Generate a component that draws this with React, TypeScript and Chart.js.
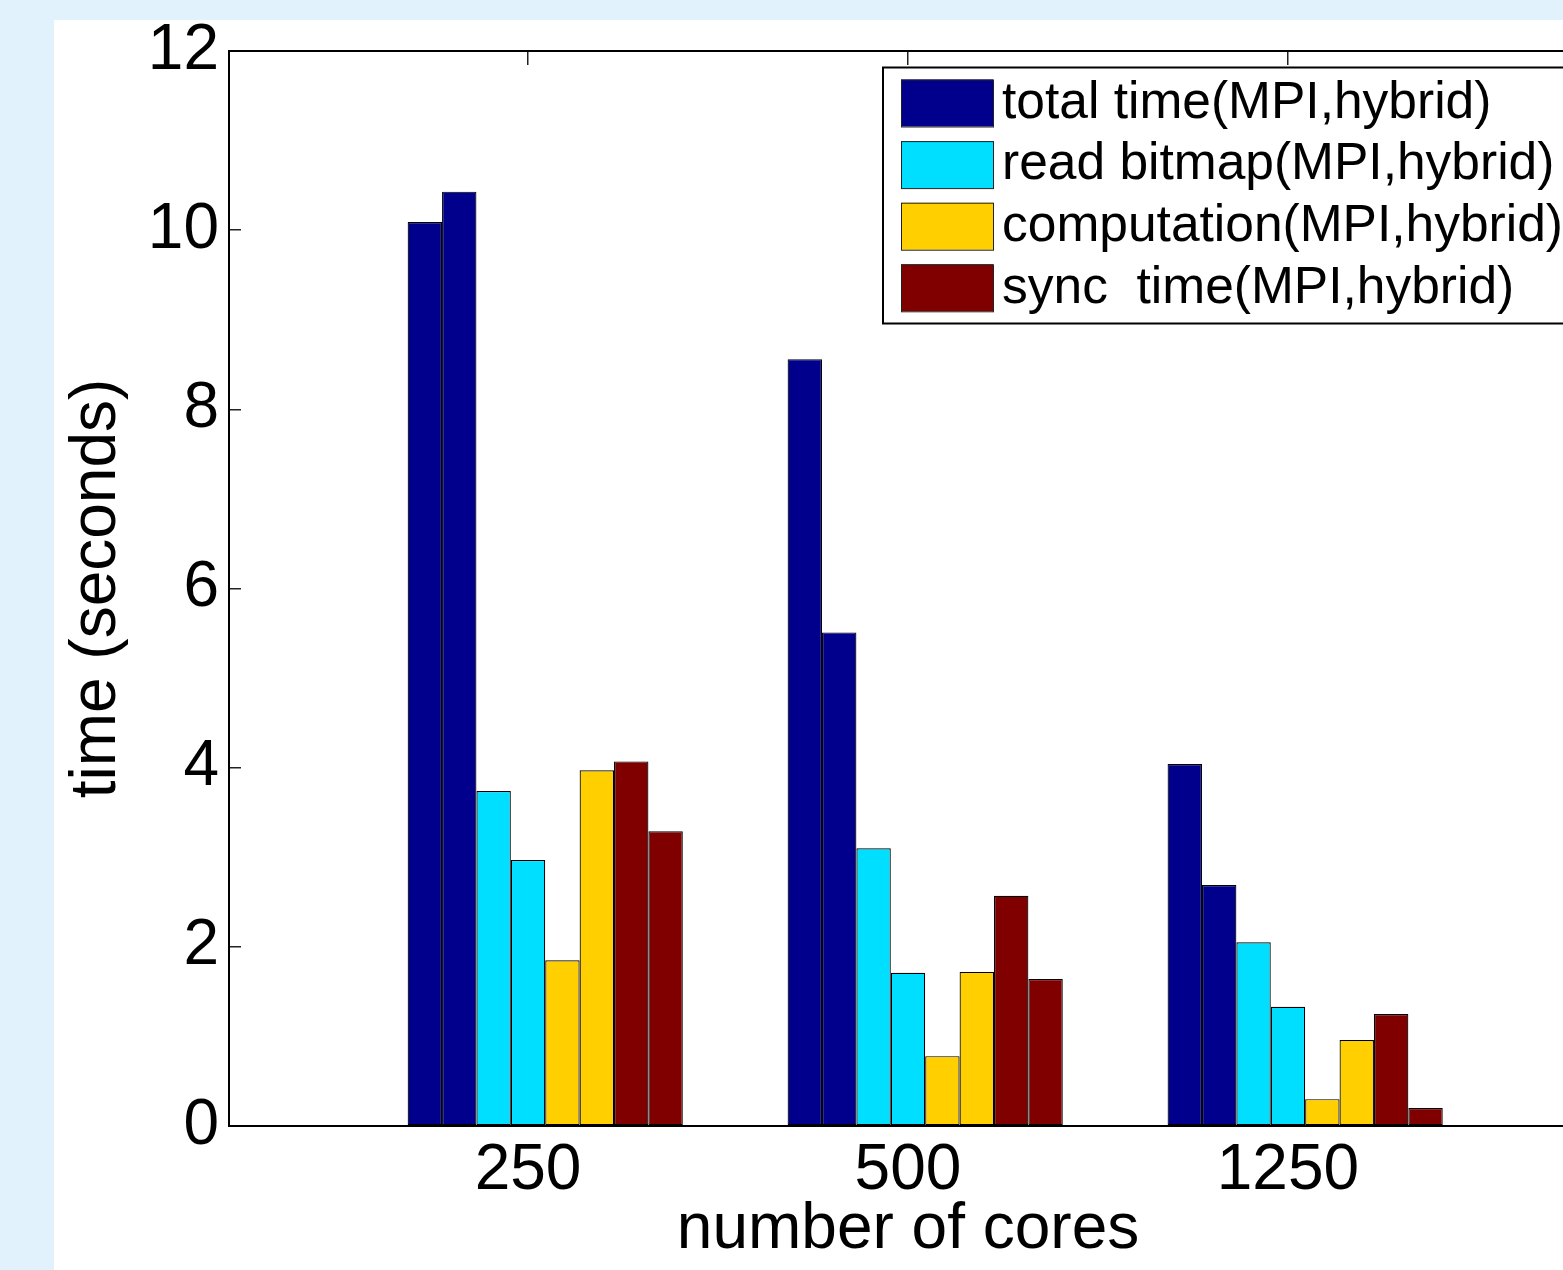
import React, { useEffect, useRef } from 'react';
import { Chart, registerables } from 'chart.js';

Chart.register(...registerables);

// ---- data ----
const CORES = ['250', '500', '1250'];
const TOTAL_MPI = [10.09, 8.56, 4.04];
const TOTAL_HYBRID = [10.43, 5.51, 2.69];
const READ_MPI = [3.74, 3.1, 2.05];
const READ_HYBRID = [2.97, 1.71, 1.33];
const COMP_MPI = [1.85, 0.78, 0.3];
const COMP_HYBRID = [3.97, 1.72, 0.96];
const SYNC_MPI = [4.07, 2.57, 1.25];
const SYNC_HYBRID = [3.29, 1.64, 0.2];
const LEGEND_LABELS = [
  'total time(MPI,hybrid)',
  'read bitmap(MPI,hybrid)',
  'computation(MPI,hybrid)',
  'sync  time(MPI,hybrid)',
];
const COLORS = ['#00008C', '#00DFFF', '#FFCF00', '#800000'];
const Y_MIN = 0;
const Y_MAX = 12;
const Y_STEP = 2;
const X_TITLE = 'number of cores';
const Y_TITLE = 'time (seconds)';

const FONT = "'Liberation Sans', Arial, Helvetica, sans-serif";
const POSITIONS = CORES.map((_, i) => i + 1);
const X_MIN = 0.213;
const X_MAX = 3.787;

const legendPlugin = {
  id: 'matlabLegend',
  afterDraw(chart: any) {
    const ctx = chart.ctx as CanvasRenderingContext2D;
    const bx = 829;
    const by = 47.5;
    const bw = 760;
    const bh = 256;
    ctx.save();
    ctx.fillStyle = '#ffffff';
    ctx.fillRect(bx, by, bw, bh);
    ctx.lineWidth = 2;
    ctx.strokeStyle = '#000000';
    ctx.strokeRect(bx, by, bw, bh);
    ctx.font = `51.5px ${FONT}`;
    ctx.textBaseline = 'middle';
    ctx.textAlign = 'left';
    LEGEND_LABELS.forEach((label, i) => {
      const sy = by + 12 + i * 61.6;
      ctx.fillStyle = COLORS[i];
      ctx.fillRect(847, sy, 92, 47);
      ctx.lineWidth = 1;
      ctx.strokeStyle = '#222222';
      ctx.strokeRect(847.5, sy + 0.5, 92, 47);
      ctx.fillStyle = '#000000';
      ctx.fillText(label, 948, sy + 24);
    });
    ctx.restore();
  },
};

export default function App() {
  const ref = useRef<HTMLCanvasElement | null>(null);

  useEffect(() => {
    if (!ref.current) return;
    const pairs = [
      [TOTAL_MPI, TOTAL_HYBRID],
      [READ_MPI, READ_HYBRID],
      [COMP_MPI, COMP_HYBRID],
      [SYNC_MPI, SYNC_HYBRID],
    ];
    const datasets: any[] = [
      {
        label: '',
        data: CORES.map(() => 0),
        backgroundColor: 'rgba(0,0,0,0)',
        borderWidth: 0,
        categoryPercentage: 0.8147,
        barPercentage: 1,
      },
    ];
    pairs.forEach((pair, i) => {
      pair.forEach((values, j) => {
        datasets.push({
          label: `${LEGEND_LABELS[i]} ${j === 0 ? 'MPI' : 'hybrid'}`,
          data: values,
          backgroundColor: COLORS[i],
          borderColor: '#000000',
          borderWidth: 1.2,
          borderSkipped: false,
          categoryPercentage: 0.8147,
          barPercentage: 1,
        });
      });
    });

    const setTicks = (scale: any) => {
      scale.ticks = POSITIONS.map((v) => ({ value: v }));
    };
    const noPadH = (s: any, h: number) => {
      s.height = h;
      s.paddingLeft = 0;
      s.paddingRight = 0;
      s.paddingTop = 0;
      s.paddingBottom = 0;
    };

    const chart = new Chart(ref.current, {
      type: 'bar',
      data: { labels: POSITIONS, datasets },
      plugins: [legendPlugin],
      options: {
        responsive: false,
        animation: false,
        devicePixelRatio: 1,
        layout: { padding: { left: 0, right: 12, top: 0, bottom: 0 } },
        plugins: {
          legend: { display: false },
          tooltip: { enabled: false },
        },
        scales: {
          x: {
            type: 'linear',
            position: 'bottom',
            min: X_MIN,
            max: X_MAX,
            offset: false,
            afterBuildTicks: setTicks,
            afterFit: (s: any) => noPadH(s, 144),
            grid: {
              offset: false,
              drawOnChartArea: false,
              drawTicks: true,
              tickLength: -14,
              color: '#222222',
              lineWidth: 1.5,
            },
            border: { display: true, color: '#000000', width: 2 },
            ticks: {
              callback: (v: any) => CORES[Number(v) - 1] ?? '',
              font: { size: 64, family: FONT, lineHeight: 1 },
              color: '#000000',
              padding: 27,
              maxRotation: 0,
              autoSkip: false,
            },
            title: {
              display: true,
              text: X_TITLE,
              color: '#000000',
              font: { size: 64, family: FONT, lineHeight: 1 },
              padding: { top: 0, bottom: 8 },
            },
          },
          xTop: {
            type: 'linear',
            position: 'top',
            min: X_MIN,
            max: X_MAX,
            offset: false,
            afterBuildTicks: setTicks,
            afterFit: (s: any) => noPadH(s, 31),
            grid: {
              offset: false,
              drawOnChartArea: false,
              drawTicks: true,
              tickLength: -14,
              color: '#222222',
              lineWidth: 1.5,
            },
            border: { display: true, color: '#000000', width: 2 },
            ticks: { display: false },
          },
          y: {
            type: 'linear',
            min: Y_MIN,
            max: Y_MAX,
            afterFit: (s: any) => {
              s.width = 175;
              s.paddingTop = 0;
              s.paddingBottom = 0;
              s.paddingLeft = 0;
              s.paddingRight = 0;
            },
            grid: {
              drawOnChartArea: false,
              drawTicks: true,
              tickLength: -12,
              color: '#222222',
              lineWidth: 1.5,
            },
            border: { display: true, color: '#000000', width: 2 },
            ticks: {
              stepSize: Y_STEP,
              font: { size: 64, family: FONT, lineHeight: 1 },
              color: '#000000',
              padding: 22,
            },
            title: {
              display: true,
              text: Y_TITLE,
              color: '#000000',
              font: { size: 64, family: FONT, lineHeight: 1 },
              padding: { top: 11, bottom: 0 },
            },
          },
        },
      } as any,
    });
    return () => chart.destroy();
  }, []);

  return (
    <div
      style={{
        position: 'fixed',
        left: 0,
        top: 0,
        width: '100vw',
        height: '100vh',
        background: '#E2F2FC',
        overflow: 'hidden',
      }}
    >
      <div
        style={{
          position: 'absolute',
          left: 54,
          top: 20,
          right: 0,
          bottom: 0,
          background: '#ffffff',
          overflow: 'hidden',
        }}
      >
        <canvas
          ref={ref}
          width={1545}
          height={1250}
          style={{ display: 'block', width: 1545, height: 1250 }}
        />
      </div>
    </div>
  );
}
